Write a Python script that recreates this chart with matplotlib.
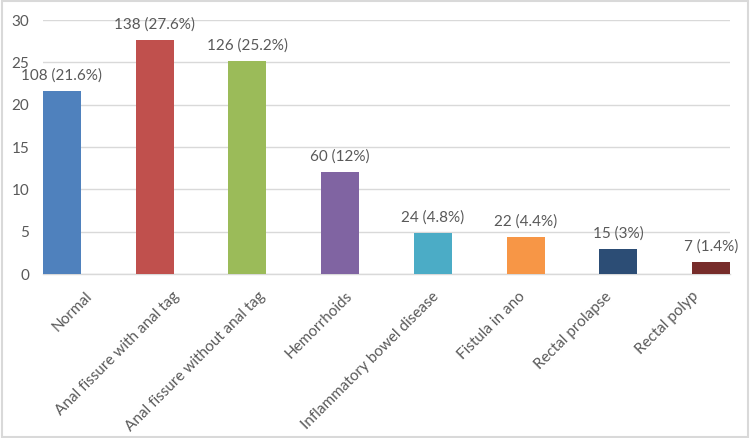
import matplotlib.pyplot as plt
from matplotlib.patches import Rectangle
from matplotlib.transforms import ScaledTranslation

categories = ["Normal", "Anal fissure with anal tag", "Anal fissure without anal tag",
              "Hemorrhoids", "Inflammatory bowel disease", "Fistula in ano",
              "Rectal prolapse", "Rectal polyp"]
counts = [108, 138, 126, 60, 24, 22, 15, 7]
percents = [21.6, 27.6, 25.2, 12, 4.8, 4.4, 3, 1.4]
colors = ["#4F81BD", "#C0504D", "#9BBB59", "#8064A2",
          "#4BACC6", "#F79646", "#2C4D75", "#772C2A"]
yticks = [0, 5, 10, 15, 20, 25, 30]

plt.rcParams["font.family"] = ["Lato", "DejaVu Sans"]
text_color = "#595959"
grid_color = "#D9D9D9"

fig = plt.figure(figsize=(7.5, 4.38), dpi=100)
ax = fig.add_axes([0.0573, 0.3744, 0.916, 0.5799])

x = range(len(categories))
bars = ax.bar(x, percents, width=0.41, color=colors, zorder=3)

labels = [f"{c} ({p:g}%)" for c, p in zip(counts, percents)]
ax.bar_label(bars, labels=labels, padding=6, color=text_color, fontsize=11)

ax.set_xlim(-0.205, len(categories) - 1 + 0.205)
ax.set_ylim(0, 30)
ax.set_yticks(yticks)
ax.set_xticks(list(x))
ax.set_xticklabels(categories, rotation=45, ha="right", rotation_mode="anchor",
                   color=text_color, fontsize=11)
ax.tick_params(axis="y", length=0, pad=10, labelcolor=text_color, labelsize=11)
ax.tick_params(axis="x", length=0, pad=11)
# in the original the rotated labels are spread a little tighter than the bars
for i, lbl in enumerate(ax.get_xticklabels()):
    dx = (23 - 6.1 * i) / 100
    lbl.set_transform(lbl.get_transform() + ScaledTranslation(dx, 0, fig.dpi_scale_trans))

ax.grid(axis="y", color=grid_color, linewidth=1, zorder=0)
for side in ["top", "right", "left"]:
    ax.spines[side].set_visible(False)
ax.spines["bottom"].set_color(grid_color)
ax.spines["bottom"].set_linewidth(1)

fig.patches.append(Rectangle((0.003, 0.003), 0.994, 0.994, transform=fig.transFigure,
                             fill=False, edgecolor="#D9D9D9", linewidth=1.5))

fig.savefig("out.png", dpi=100)
